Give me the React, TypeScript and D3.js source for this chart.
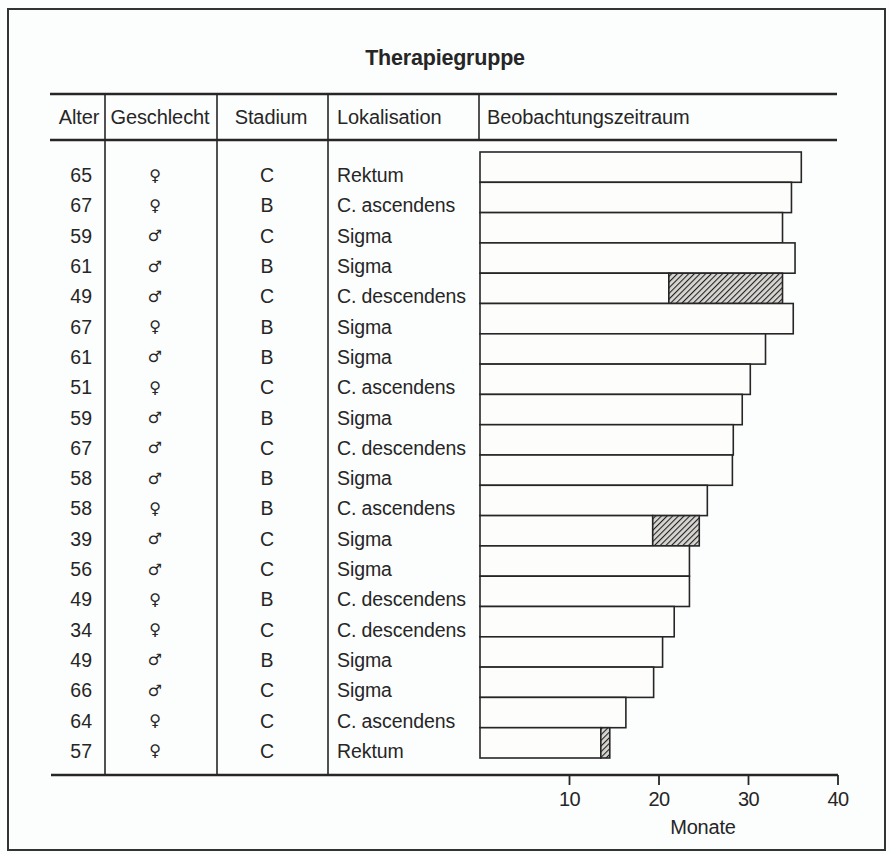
import * as d3 from 'd3';

const ages = [65, 67, 59, 61, 49, 67, 61, 51, 59, 67, 58, 58, 39, 56, 49, 34, 49, 66, 64, 57];
const sexes = ['f', 'f', 'm', 'm', 'm', 'f', 'm', 'f', 'm', 'm', 'm', 'f', 'm', 'm', 'f', 'f', 'm', 'm', 'f', 'f'];
const stages = ['C', 'B', 'C', 'B', 'C', 'B', 'B', 'C', 'B', 'C', 'B', 'B', 'C', 'C', 'B', 'C', 'B', 'C', 'C', 'C'];
const sites = [
  'Rektum', 'C. ascendens', 'Sigma', 'Sigma', 'C. descendens', 'Sigma', 'Sigma', 'C. ascendens',
  'Sigma', 'C. descendens', 'Sigma', 'C. ascendens', 'Sigma', 'Sigma', 'C. descendens',
  'C. descendens', 'Sigma', 'Sigma', 'C. ascendens', 'Rektum',
];
// observation period in months (end of bar)
const months = [35.9, 34.8, 33.8, 35.2, 33.8, 35.0, 31.9, 30.2, 29.3, 28.3, 28.2, 25.4, 24.5, 23.4, 23.4, 21.7, 20.4, 19.4, 16.3, 14.5];
// start of hatched segment, null = none
const hatchStart: (number | null)[] = [
  null, null, null, null, 21.1, null, null, null, null, null,
  null, null, 19.3, null, null, null, null, null, null, 13.5,
];
const ticks = [10, 20, 30, 40];
const headers = ['Alter', 'Geschlecht', 'Stadium', 'Lokalisation', 'Beobachtungszeitraum'];

const ink = '#262626';
const font = '"Liberation Sans", Arial, Helvetica, sans-serif';

export default function App() {
  const x = d3.scaleLinear().domain([0, 40]).range([480, 838]);
  const y = d3
    .scaleBand()
    .domain(ages.map((_, i) => String(i)))
    .range([152, 758])
    .padding(0);
  const bw = y.bandwidth();

  const tableLeft = 50;
  const tableRight = 837;
  const headTop = 94;
  const headBottom = 140;
  const axisY = 775;
  const cols = [105, 217, 328];
  const textOff = 8; // labels sit a little below the bar centres

  return (
    <svg
      width={890}
      height={854}
      style={{ position: 'absolute', left: 0, top: 0, background: '#fcfdfd' }}
      fontFamily={font}
    >
      <defs>
        <pattern id="hatch" patternUnits="userSpaceOnUse" width={4} height={4} patternTransform="rotate(45)">
          <rect width={4} height={4} fill="#d8d6d2" />
          <line x1={0} y1={0} x2={0} y2={4} stroke="#222" strokeWidth={2.2} />
        </pattern>
      </defs>
      <rect x={0} y={0} width={890} height={854} fill="#fcfdfd" />
      {/* frame */}
      <rect x={8} y={9} width={877} height={841} fill="none" stroke="#333" strokeWidth={2} />

      {/* title */}
      <text x={445} y={58} textAnchor="middle" dominantBaseline="central" fontWeight="bold" fontSize={21.5} fill={ink} letterSpacing={-0.2}>
        Therapiegruppe
      </text>

      {/* header rules */}
      <line x1={tableLeft} x2={tableRight} y1={headTop} y2={headTop} stroke={ink} strokeWidth={2.5} />
      <line x1={tableLeft} x2={tableRight} y1={headBottom} y2={headBottom} stroke={ink} strokeWidth={2.5} />
      {cols.map((c) => (
        <line key={c} x1={c} x2={c} y1={headTop} y2={axisY} stroke={ink} strokeWidth={1.6} />
      ))}
      <line x1={479} x2={479} y1={headTop} y2={headBottom} stroke={ink} strokeWidth={1.6} />

      {/* header labels */}
      {[
        { t: headers[0], x: 79, a: 'middle' },
        { t: headers[1], x: 160, a: 'middle' },
        { t: headers[2], x: 271, a: 'middle' },
        { t: headers[3], x: 337, a: 'start' },
        { t: headers[4], x: 487, a: 'start' },
      ].map((h) => (
        <text key={h.t} x={h.x} y={117} textAnchor={h.a as any} dominantBaseline="central" fontSize={20} fill={ink} letterSpacing={-0.1}>
          {h.t}
        </text>
      ))}

      {/* rows */}
      {ages.map((age, i) => {
        const cy = y(String(i))! + bw / 2 + textOff;
        return (
          <g key={i} fontSize={19.5} fill={ink}>
            <text x={92} y={cy} textAnchor="end" dominantBaseline="central">
              {age}
            </text>
            <text
              x={155}
              y={cy}
              textAnchor="middle"
              dominantBaseline="central"
              fontSize={16}
              fontWeight="bold"
              fontFamily='"DejaVu Sans", sans-serif'
            >
              {sexes[i] === 'f' ? '\u2640' : '\u2642'}
            </text>
            <text x={267} y={cy} textAnchor="middle" dominantBaseline="central">
              {stages[i]}
            </text>
            <text x={337} y={cy} dominantBaseline="central" letterSpacing={-0.1}>
              {sites[i]}
            </text>
          </g>
        );
      })}

      {/* bars */}
      {months.map((m, i) => {
        const top = y(String(i))!;
        const hs = hatchStart[i];
        const plainEnd = hs ?? m;
        return (
          <g key={i}>
            <rect x={x(0)} y={top} width={x(plainEnd) - x(0)} height={bw} fill="#fdfdfc" stroke={ink} strokeWidth={1.6} />
            {hs != null && (
              <rect x={x(hs)} y={top} width={x(m) - x(hs)} height={bw} fill="url(#hatch)" stroke={ink} strokeWidth={1.6} />
            )}
          </g>
        );
      })}

      {/* axis */}
      <line x1={51} x2={x(40)} y1={axisY} y2={axisY} stroke={ink} strokeWidth={2.5} />
      {ticks.map((t) => (
        <g key={t} transform={`translate(${x(t)},0)`}>
          <line y1={axisY} y2={axisY + 10} stroke={ink} strokeWidth={1.8} />
          <text y={799} textAnchor="middle" dominantBaseline="central" fontSize={20} fill={ink} letterSpacing={-0.6}>
            {t}
          </text>
        </g>
      ))}
      <text x={703} y={827} textAnchor="middle" dominantBaseline="central" fontSize={20} fill={ink} letterSpacing={-0.2}>
        Monate
      </text>
    </svg>
  );
}
